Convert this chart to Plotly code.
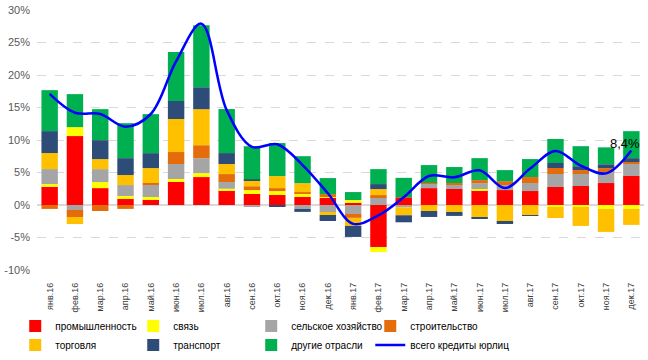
import plotly.graph_objects as go

months = ["янв.16", "фев.16", "мар.16", "апр.16", "май.16", "июн.16", "июл.16", "авг.16",
          "сен.16", "окт.16", "ноя.16", "дек.16", "янв.17", "фев.17", "мар.17", "апр.17",
          "май.17", "июн.17", "июл.17", "авг.17", "сен.17", "окт.17", "ноя.17", "дек.17"]

industry = [2.8, 10.6, 2.6, 0.92, 0.77, 3.54, 4.3, 2.3, 1.69, 1.54, 1.23, 1.08,
            0.46, -6.46, 1.18, 2.6, 2.46, 2.3, 2.3, 2.15, 2.77, 2.92, 3.38, 4.46]
telecom = [0.42, 1.38, 0.92, 0.46, 0.46, 0.46, 0.6, 0.2, 0.6, 0.6, 0.6, 0.3,
           0.3, -0.77, 0.0, 0.0, 0.0, 0.15, 0.0, 0.0, -0.3, -0.3, -0.6, -0.6]
agriculture = [2.31, -0.77, 2.0, 1.69, 1.85, 2.3, 2.3, 1.03, -0.2, -0.15, -0.6, -1.08,
               -1.38, 1.23, -0.35, 0.72, 0.77, 0.92, 0.77, 1.23, 2.0, 1.85, 1.69, 1.85]
construction = [-0.6, -1.08, -0.92, -0.6, 0.3, 1.85, 2.0, 1.23, 0.6, 0.46, 0.15, 0.3,
                -0.6, 0.3, 0.0, 0.1, 0.15, 0.46, 0.6, 0.92, 0.92, 0.6, 0.6, 0.3]
trade = [2.46, -1.08, 1.54, 1.54, 2.3, 5.08, 5.54, 1.54, 0.92, 1.85, 1.38, -0.46,
         -1.23, 0.92, -1.23, -0.92, -1.08, -1.95, -2.46, -1.54, -1.7, -2.92, -3.54, -2.46]
transport = [3.38, 0.0, 2.92, 2.6, 2.3, 2.77, 3.38, 1.69, 0.15, -0.15, -0.46, -0.92,
             -1.7, 0.77, -1.08, -0.92, -0.6, -0.15, -0.46, -0.15, 0.77, 0.6, 0.6, 0.6]
other = [6.3, 5.08, 4.77, 5.38, 6.0, 7.54, 9.54, 6.77, 5.08, 5.08, 4.15, 2.46,
         1.23, 2.3, 3.0, 2.72, 2.46, 3.38, 1.7, 2.77, 3.7, 3.08, 2.6, 4.15]
total = [17.1, 14.2, 14.0, 12.05, 14.0, 22.1, 27.9, 14.6, 8.95, 9.35, 6.15, 1.8,
         -2.9, -1.6, 1.2, 4.46, 4.26, 5.33, 2.6, 5.6, 8.3, 6.05, 4.87, 8.4]

y_ticks = [-10, -5, 0, 5, 10, 15, 20, 25, 30]
y_ticktext = [f"{v}%" for v in y_ticks]

# (name, values, colour, legend column)
series = [
    ("промышленность", industry, "#FF0000", "legend"),
    ("связь", telecom, "#FFFF00", "legend2"),
    ("сельское хозяйство", agriculture, "#A5A5A5", "legend3"),
    ("строительство", construction, "#E46C0A", "legend4"),
    ("торговля", trade, "#FFC000", "legend"),
    ("транспорт", transport, "#2E4C78", "legend2"),
    ("другие отрасли", other, "#00B050", "legend3"),
]

FONT = "Liberation Sans"
fig = go.Figure()
for name, vals, color, lg in series:
    fig.add_trace(go.Bar(x=months, y=vals, name=name, marker=dict(color=color, line=dict(width=0)),
                         legend=lg))

fig.add_trace(go.Scatter(x=months, y=total, name="всего кредиты юрлиц", mode="lines",
                         line=dict(color="#0000FF", width=2.5, shape="spline", smoothing=1.0),
                         legend="legend4"))

label = f"{total[-1]:.1f}%".replace(".", ",")
fig.add_annotation(x=months[-1], y=total[-1], text=label, showarrow=False,
                   xanchor="right", yshift=7, xshift=11,
                   font=dict(family=FONT, size=13, color="#000000"))

legend_common = dict(orientation="v", xref="container", yref="container", xanchor="left",
                     yanchor="top", y=0.135, bgcolor="rgba(0,0,0,0)",
                     font=dict(family=FONT, size=10, color="#000000"),
                     traceorder="normal", itemwidth=30, tracegroupgap=0)

fig.update_layout(
    width=648, height=360,
    margin=dict(l=37, r=4, t=10, b=90, autoexpand=False),
    paper_bgcolor="white", plot_bgcolor="white",
    barmode="relative", bargap=0.35,
    font=dict(family=FONT, size=11, color="#595959"),
    showlegend=True,
    legend=dict(x=0.0235, **legend_common),
    legend2=dict(x=0.2056, **legend_common),
    legend3=dict(x=0.3877, **legend_common),
    legend4=dict(x=0.5714, **legend_common),
    xaxis=dict(type="category", tickangle=-90, tickfont=dict(family=FONT, size=9, color="#404040"),
               showgrid=False, showline=False, ticks="", ticklabelstandoff=10, automargin=False),
    yaxis=dict(range=[-10, 30], tickvals=y_ticks, ticktext=y_ticktext,
               tickfont=dict(family=FONT, size=11, color="#595959"),
               showgrid=True, gridcolor="#D9D9D9", gridwidth=1, griddash="dash",
               zeroline=True, zerolinecolor="#D9D9D9", zerolinewidth=1.5,
               showline=False, ticks="", ticklabelstandoff=6, automargin=False),
)

fig.write_html("out.html", config={"displayModeBar": False},
               post_script="document.body.style.margin='0';")
